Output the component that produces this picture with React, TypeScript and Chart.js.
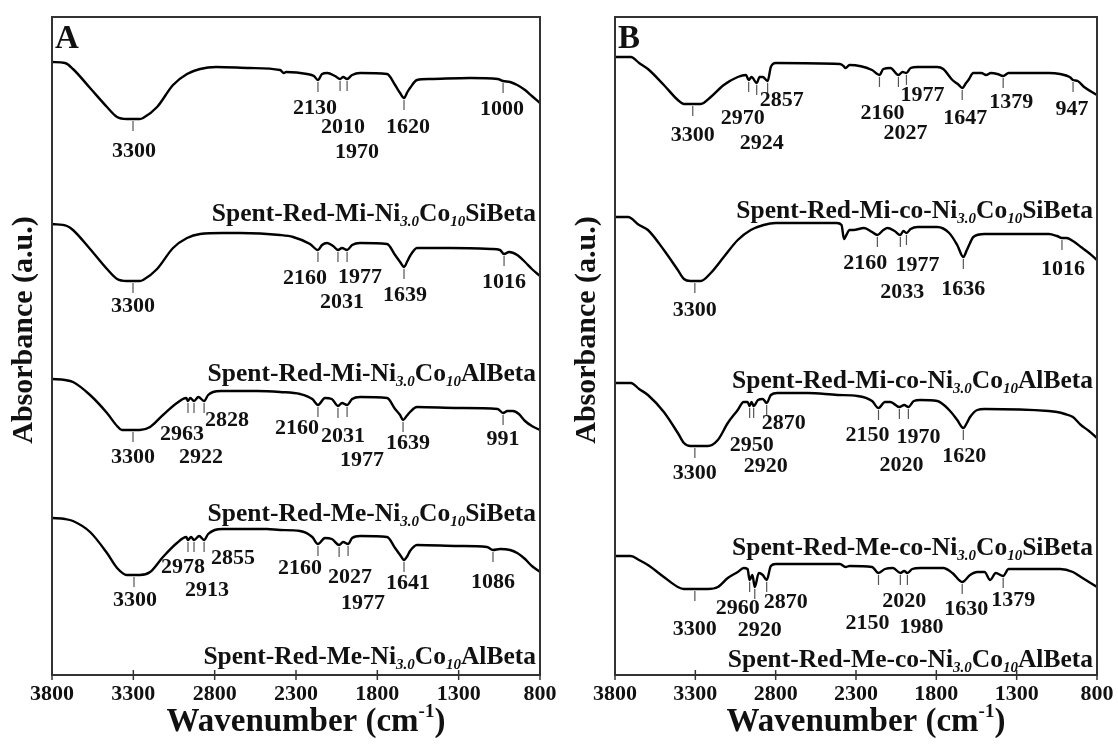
import React, { useEffect, useRef } from "react";
import { Chart, registerables } from "chart.js";
Chart.register(...registerables);

type Pt = [number, number];
type Peak = [number, string];

const FONT = "'Liberation Serif', 'Times New Roman', serif";
const X_TICKS = [3800, 3300, 2800, 2300, 1800, 1300, 800];

// ---------- Panel A spectra: [wavenumber cm-1, absorbance (a.u., offset)] ----------
const specA1: Pt[] = [[3800,6.13],[3720,6.12],[3671,6.06],[3566,5.87],[3462,5.68],[3400,5.58],[3340,5.56],[3260,5.56],[3240,5.57],[3154,5.68],[3056,5.90],[2970,6.01],[2890,6.06],[2790,6.08],[2583,6.07],[2398,6.05],[2375,6.02],[2360,6.03],[2232,6.01],[2190,5.99],[2165,5.95],[2140,6.01],[2109,6.02],[2060,5.99],[2029,5.96],[2010,5.98],[1986,5.96],[1955,6.00],[1906,6.02],[1740,6.01],[1691,5.90],[1660,5.82],[1636,5.77],[1615,5.83],[1599,5.87],[1556,5.95],[1476,5.96],[1230,5.97],[1060,5.96],[1027,5.94],[984,5.93],[940,5.90],[892,5.85],[850,5.79],[800,5.72]];
const specA2: Pt[] = [[3800,4.51],[3708,4.49],[3671,4.45],[3566,4.26],[3462,4.06],[3400,3.96],[3340,3.94],[3260,3.94],[3240,3.95],[3154,4.06],[3056,4.27],[2970,4.37],[2890,4.41],[2750,4.42],[2644,4.42],[2398,4.40],[2318,4.38],[2214,4.31],[2165,4.25],[2140,4.30],[2109,4.32],[2072,4.29],[2042,4.25],[2017,4.27],[1986,4.25],[1955,4.30],[1906,4.32],[1740,4.31],[1691,4.20],[1660,4.13],[1636,4.08],[1615,4.14],[1599,4.19],[1556,4.27],[1353,4.27],[1100,4.26],[1046,4.25],[1021,4.21],[990,4.23],[940,4.20],[892,4.13],[850,4.06],[800,3.99]];
const specA3: Pt[] = [[3800,2.96],[3720,2.95],[3671,2.93],[3566,2.80],[3462,2.62],[3400,2.49],[3370,2.45],[3260,2.45],[3197,2.48],[3118,2.60],[3032,2.72],[2975,2.77],[2964,2.74],[2950,2.77],[2927,2.74],[2900,2.78],[2865,2.74],[2840,2.80],[2810,2.83],[2760,2.84],[2540,2.84],[2398,2.83],[2275,2.81],[2200,2.76],[2165,2.70],[2122,2.77],[2080,2.76],[2042,2.69],[2017,2.72],[1986,2.70],[1955,2.76],[1906,2.78],[1740,2.77],[1691,2.66],[1660,2.60],[1642,2.55],[1620,2.59],[1599,2.63],[1556,2.68],[1300,2.67],[1060,2.66],[1027,2.62],[1000,2.64],[966,2.64],[930,2.61],[892,2.54],[850,2.49],[800,2.45]];
const specA4: Pt[] = [[3800,1.57],[3720,1.56],[3671,1.54],[3566,1.43],[3462,1.22],[3400,1.07],[3340,1.00],[3260,1.00],[3197,1.03],[3118,1.18],[3032,1.32],[2975,1.38],[2964,1.35],[2945,1.38],[2927,1.35],[2895,1.39],[2865,1.35],[2840,1.41],[2800,1.45],[2750,1.46],[2478,1.46],[2398,1.45],[2275,1.44],[2200,1.38],[2165,1.31],[2122,1.37],[2080,1.36],[2035,1.30],[2010,1.33],[1980,1.31],[1955,1.37],[1906,1.39],[1740,1.38],[1691,1.27],[1660,1.20],[1636,1.15],[1615,1.19],[1599,1.24],[1556,1.30],[1300,1.29],[1126,1.28],[1089,1.25],[1046,1.26],[984,1.25],[940,1.22],[892,1.16],[850,1.09],[800,1.03]];

// ---------- Panel B spectra ----------
const specB1: Pt[] = [[3800,6.18],[3701,6.18],[3650,6.12],[3595,6.06],[3496,5.90],[3409,5.75],[3371,5.71],[3266,5.71],[3204,5.78],[3123,5.90],[3036,5.98],[2985,6.00],[2968,5.95],[2950,5.98],[2918,5.92],[2900,5.98],[2880,5.98],[2850,5.94],[2830,6.08],[2800,6.12],[2400,6.11],[2378,6.09],[2365,6.07],[2340,6.10],[2200,6.05],[2154,6.00],[2130,6.06],[2086,6.07],[2036,6.00],[2010,6.03],[1986,6.02],[1960,6.07],[1918,6.08],[1794,6.08],[1757,6.06],[1700,5.95],[1660,5.90],[1639,5.87],[1615,5.92],[1600,5.95],[1570,6.02],[1520,6.02],[1490,6.00],[1460,6.02],[1420,6.01],[1384,5.99],[1350,6.02],[1100,6.02],[1030,6.01],[970,5.98],[949,5.95],[920,5.94],[880,5.88],[800,5.80]];
const specB2: Pt[] = [[3800,4.58],[3719,4.58],[3650,4.50],[3595,4.45],[3496,4.25],[3409,4.05],[3371,3.96],[3330,3.94],[3266,3.94],[3204,4.02],[3123,4.18],[3036,4.35],[2955,4.45],[2875,4.50],[2800,4.52],[2420,4.52],[2390,4.50],[2375,4.36],[2360,4.40],[2340,4.45],[2316,4.45],[2250,4.47],[2200,4.43],[2167,4.40],[2130,4.45],[2104,4.47],[2060,4.44],[2024,4.40],[2005,4.44],[1986,4.42],[1960,4.46],[1918,4.48],[1794,4.48],[1720,4.42],[1670,4.30],[1632,4.18],[1610,4.25],[1590,4.32],[1570,4.38],[1500,4.41],[1100,4.41],[1049,4.39],[1018,4.37],[990,4.37],[950,4.34],[900,4.28],[850,4.22],[800,4.15]];
const specB3: Pt[] = [[3800,2.92],[3701,2.92],[3650,2.86],[3595,2.80],[3496,2.63],[3409,2.42],[3371,2.32],[3330,2.29],[3222,2.29],[3160,2.35],[3098,2.52],[3036,2.65],[2999,2.73],[2975,2.73],[2962,2.69],[2950,2.73],[2937,2.69],[2910,2.75],[2880,2.76],[2856,2.72],[2830,2.80],[2790,2.82],[2600,2.82],[2415,2.80],[2291,2.79],[2200,2.74],[2160,2.67],[2120,2.73],[2086,2.73],[2030,2.68],[2000,2.70],[1974,2.68],[1940,2.74],[1900,2.75],[1794,2.74],[1720,2.65],[1670,2.55],[1632,2.47],[1610,2.52],[1590,2.58],[1545,2.65],[1500,2.66],[1100,2.64],[1049,2.63],[1000,2.61],[950,2.58],[900,2.50],[850,2.44],[800,2.37]];
const specB4: Pt[] = [[3800,1.19],[3701,1.19],[3650,1.15],[3595,1.10],[3496,0.98],[3409,0.88],[3371,0.86],[3222,0.86],[3160,0.88],[3098,0.97],[3036,1.03],[2999,1.07],[2975,1.06],[2962,0.95],[2945,1.00],[2930,0.88],[2905,1.02],[2880,1.00],[2856,0.95],[2830,1.09],[2800,1.11],[2400,1.11],[2365,1.08],[2340,1.09],[2200,1.08],[2160,1.02],[2120,1.06],[2070,1.07],[2024,1.02],[2000,1.04],[1980,1.02],[1950,1.06],[1900,1.07],[1757,1.07],[1700,1.02],[1639,0.93],[1590,1.00],[1545,1.03],[1500,1.03],[1465,0.95],[1430,1.02],[1384,0.99],[1350,1.06],[1030,1.06],[950,1.03],[900,0.98],[850,0.93],[800,0.88]];

// ---------- sample names ----------
const namesA = [
  "Spent-Red-Mi-Ni_{3.0}Co_{10}SiBeta",
  "Spent-Red-Mi-Ni_{3.0}Co_{10}AlBeta",
  "Spent-Red-Me-Ni_{3.0}Co_{10}SiBeta",
  "Spent-Red-Me-Ni_{3.0}Co_{10}AlBeta",
];
const namesB = [
  "Spent-Red-Mi-co-Ni_{3.0}Co_{10}SiBeta",
  "Spent-Red-Mi-co-Ni_{3.0}Co_{10}AlBeta",
  "Spent-Red-Me-co-Ni_{3.0}Co_{10}SiBeta",
  "Spent-Red-Me-co-Ni_{3.0}Co_{10}AlBeta",
];

// ---------- peak markers: [marker wavenumber, label] ----------
const peaksA1: Peak[] = [[3302,"3300"],[2165,"2130"],[2029,"2010"],[1986,"1970"],[1636,"1620"],[1027,"1000"]];
const peaksA2: Peak[] = [[3302,"3300"],[2165,"2160"],[2042,"2031"],[1986,"1977"],[1636,"1639"],[1021,"1016"]];
const peaksA3: Peak[] = [[3302,"3300"],[2964,"2963"],[2927,"2922"],[2865,"2828"],[2165,"2160"],[2042,"2031"],[1986,"1977"],[1642,"1639"],[1027,"991"]];
const peaksA4: Peak[] = [[3296,"3300"],[2964,"2978"],[2927,"2913"],[2865,"2855"],[2165,"2160"],[2035,"2027"],[1980,"1977"],[1636,"1641"],[1089,"1086"]];
const peaksB1: Peak[] = [[3316,"3300"],[2968,"2970"],[2918,"2924"],[2850,"2857"],[2154,"2160"],[2036,"2027"],[1986,"1977"],[1639,"1647"],[1384,"1379"],[949,"947"]];
const peaksB2: Peak[] = [[3303,"3300"],[2167,"2160"],[2024,"2033"],[1986,"1977"],[1632,"1636"],[1018,"1016"]];
const peaksB3: Peak[] = [[3303,"3300"],[2962,"2950"],[2937,"2920"],[2856,"2870"],[2160,"2150"],[2030,"2020"],[1974,"1970"],[1632,"1620"]];
const peaksB4: Peak[] = [[3303,"3300"],[2962,"2960"],[2930,"2920"],[2856,"2870"],[2160,"2150"],[2024,"2020"],[1980,"1980"],[1639,"1630"],[1384,"1379"]];

// ---------- layout (label placement offsets in px, name baselines in a.u.) ----------
const offA1: Pt[] = [[1,32],[-3,28],[3,48],[10,73],[4,29],[-1,28]];
const offA2: Pt[] = [[0,25],[-13,28],[4,52],[13,27],[1,28],[0,28]];
const offA3: Pt[] = [[0,27],[-6,33],[7,56],[23,19],[-21,23],[5,30],[15,55],[5,23],[0,26]];
const offA4: Pt[] = [[1,25],[-5,27],[13,50],[29,18],[-18,24],[11,32],[15,59],[4,23],[0,32]];
const offB1: Pt[] = [[0,31],[-6,38],[5,60],[14,19],[3,38],[7,58],[16,22],[3,30],[8,26],[-1,29]];
const offB2: Pt[] = [[0,29],[-12,28],[2,57],[11,32],[0,32],[1,31]];
const offB3: Pt[] = [[0,27],[2,39],[12,60],[17,20],[-11,27],[2,58],[10,30],[1,28]];
const offB4: Pt[] = [[0,40],[-12,28],[5,43],[19,22],[-11,50],[4,28],[14,54],[4,27],[10,24]];
const nameLevelsA = [4.54, 2.94, 1.54, 0.11];
const nameLevelsB = [4.57, 2.87, 1.20, 0.08];

interface PanelCfg {
  letter: string;
  spectra: Pt[][];
  peaks: Peak[][];
  offsets: Pt[][];
  names: string[];
  nameLevels: number[];
  padLeft: number;
  padRight: number;
}

const panelA: PanelCfg = {
  letter: "A",
  spectra: [specA1, specA2, specA3, specA4],
  peaks: [peaksA1, peaksA2, peaksA3, peaksA4],
  offsets: [offA1, offA2, offA3, offA4],
  names: namesA,
  nameLevels: nameLevelsA,
  padLeft: 52,
  padRight: 19,
};
const panelB: PanelCfg = {
  letter: "B",
  spectra: [specB1, specB2, specB3, specB4],
  peaks: [peaksB1, peaksB2, peaksB3, peaksB4],
  offsets: [offB1, offB2, offB3, offB4],
  names: namesB,
  nameLevels: nameLevelsB,
  padLeft: 56,
  padRight: 21,
};

function interp(data: Pt[], wn: number): number {
  for (let i = 0; i < data.length - 1; i++) {
    const [x0, y0] = data[i];
    const [x1, y1] = data[i + 1];
    if (wn <= x0 && wn >= x1) {
      const t = x0 === x1 ? 0 : (x0 - wn) / (x0 - x1);
      return y0 + (y1 - y0) * t;
    }
  }
  return data[data.length - 1][1];
}

function parseName(s: string): { t: string; sub: boolean }[] {
  const parts: { t: string; sub: boolean }[] = [];
  const re = /_\{([^}]*)\}/g;
  let last = 0;
  let m: RegExpExecArray | null;
  while ((m = re.exec(s))) {
    if (m.index > last) parts.push({ t: s.slice(last, m.index), sub: false });
    parts.push({ t: m[1], sub: true });
    last = m.index + m[0].length;
  }
  if (last < s.length) parts.push({ t: s.slice(last), sub: false });
  return parts;
}

function makeDecor(cfg: PanelCfg) {
  return {
    id: "panelDecor" + cfg.letter,
    afterDatasetsDraw(chart: any) {
      const { ctx, chartArea: a, scales } = chart;
      const xs = scales.x;
      const ys = scales.y;
      ctx.save();
      ctx.fillStyle = "#111";

      // frame
      ctx.strokeStyle = "#333";
      ctx.lineWidth = 2;
      ctx.strokeRect(a.left, a.top, a.right - a.left, a.bottom - a.top);

      // x tick marks (crossing the axis)
      ctx.lineWidth = 1.5;
      X_TICKS.forEach((v) => {
        const x = xs.getPixelForValue(v);
        ctx.beginPath();
        ctx.moveTo(x, a.bottom - 5);
        ctx.lineTo(x, a.bottom + 5);
        ctx.stroke();
      });

      // panel letter
      ctx.font = `bold 33px ${FONT}`;
      ctx.textAlign = "left";
      ctx.textBaseline = "alphabetic";
      ctx.fillText(cfg.letter, a.left + 3, a.top + 31);

      // peak markers and labels
      ctx.font = `bold 22px ${FONT}`;
      ctx.textAlign = "center";
      ctx.textBaseline = "middle";
      cfg.peaks.forEach((list, si) => {
        const spec = cfg.spectra[si];
        list.forEach(([wn, label], pi) => {
          const x = xs.getPixelForValue(wn);
          const y = ys.getPixelForValue(interp(spec, wn));
          ctx.strokeStyle = "#555";
          ctx.lineWidth = 1.2;
          ctx.beginPath();
          ctx.moveTo(x, y + 2);
          ctx.lineTo(x, y + 12);
          ctx.stroke();
          const [dx, dy] = cfg.offsets[si][pi];
          ctx.fillText(label, x + dx, y + dy);
        });
      });

      // sample names (right aligned, with subscripts)
      const mainFont = `bold 25.5px ${FONT}`;
      const subFont = `italic bold 15px ${FONT}`;
      cfg.names.forEach((name, i) => {
        const parts = parseName(name);
        let total = 0;
        parts.forEach((p) => {
          ctx.font = p.sub ? subFont : mainFont;
          total += ctx.measureText(p.t).width;
        });
        let x = a.right - 4 - total;
        const base = ys.getPixelForValue(cfg.nameLevels[i]);
        ctx.textAlign = "left";
        ctx.textBaseline = "alphabetic";
        parts.forEach((p) => {
          ctx.font = p.sub ? subFont : mainFont;
          ctx.fillText(p.t, x, p.sub ? base + 5 : base);
          x += ctx.measureText(p.t).width;
        });
      });

      // x axis title with superscript
      const tMain = `bold 33px ${FONT}`;
      const tSup = `bold 19px ${FONT}`;
      ctx.font = tMain;
      const w1 = ctx.measureText("Wavenumber (cm").width;
      const w3 = ctx.measureText(")").width;
      ctx.font = tSup;
      const w2 = ctx.measureText("-1").width;
      const totalW = w1 + w2 + w3;
      let tx = (a.left + a.right) / 2 + 10 - totalW / 2;
      const tb = a.bottom + 56;
      ctx.textAlign = "left";
      ctx.textBaseline = "alphabetic";
      ctx.font = tMain;
      ctx.fillText("Wavenumber (cm", tx, tb);
      tx += w1;
      ctx.font = tSup;
      ctx.fillText("-1", tx, tb - 14);
      tx += w2;
      ctx.font = tMain;
      ctx.fillText(")", tx, tb);

      // y axis title
      ctx.save();
      ctx.translate(a.left - 28, (a.top + a.bottom) / 2 - 16);
      ctx.rotate(-Math.PI / 2);
      ctx.font = `bold 30px ${FONT}`;
      ctx.textAlign = "center";
      ctx.textBaseline = "middle";
      ctx.fillText("Absorbance (a.u.)", 0, 0);
      ctx.restore();

      ctx.restore();
    },
  };
}

function Panel({ left, cfg }: { left: number; cfg: PanelCfg }) {
  const ref = useRef<HTMLCanvasElement>(null);
  useEffect(() => {
    if (!ref.current) return;
    const chart = new Chart(ref.current, {
      type: "line",
      data: {
        datasets: cfg.spectra.map((s, i) => ({
          label: cfg.names[i],
          data: s.map(([x, y]) => ({ x, y })),
          borderColor: "#000",
          borderWidth: 2.4,
          pointRadius: 0,
          fill: false,
          cubicInterpolationMode: "monotone" as const,
        })),
      },
      options: {
        animation: false,
        responsive: false,
        devicePixelRatio: 1,
        layout: { padding: { left: cfg.padLeft, right: cfg.padRight, top: 17, bottom: 0 } },
        plugins: { legend: { display: false }, tooltip: { enabled: false } },
        scales: {
          x: {
            type: "linear",
            min: 800,
            max: 3800,
            reverse: true,
            afterBuildTicks: (s: any) => {
              s.ticks = X_TICKS.map((v) => ({ value: v }));
            },
            afterFit: (s: any) => {
              s.height = 72;
            },
            grid: { display: false },
            border: { display: false },
            ticks: {
              color: "#111",
              padding: -2,
              maxRotation: 0,
              autoSkip: false,
              font: { family: FONT, size: 22, weight: "bold" },
              callback: (v: any) => String(v),
            },
          },
          y: { display: false, min: 0, max: 6.58 },
        },
      },
      plugins: [makeDecor(cfg)],
    } as any);
    return () => chart.destroy();
  }, [cfg]);
  return (
    <canvas
      ref={ref}
      width={559}
      height={747}
      style={{ position: "absolute", left, top: 0, width: 559, height: 747 }}
    />
  );
}

export default function App() {
  return (
    <div style={{ position: "fixed", left: 0, top: 0, width: 1118, height: 747, background: "#fff", overflow: "hidden" }}>
      <Panel left={0} cfg={panelA} />
      <Panel left={559} cfg={panelB} />
    </div>
  );
}
